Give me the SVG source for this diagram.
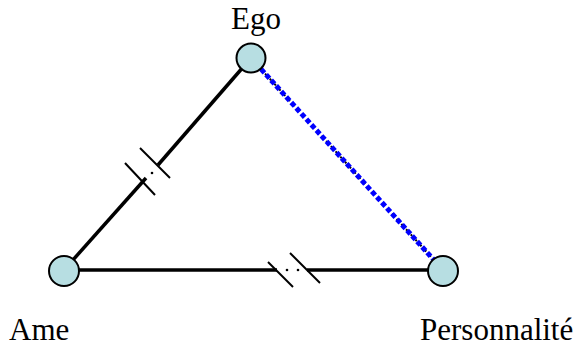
<svg xmlns="http://www.w3.org/2000/svg" width="576" height="348" viewBox="0 0 576 348">
<style>
.t{font-family:"Liberation Serif","Times New Roman",serif;font-size:31px;fill:#000}
.l{stroke:#000;stroke-width:3.5;fill:none}
.s{stroke:#000;stroke-width:2;fill:none}
.n{fill:#B7DEE2;stroke:#000;stroke-width:2}
</style>
<g id="connectors">
<g id="ame-ego">
<line class="l" x1="64" y1="270" x2="146" y2="178"/>
<line class="l" x1="158" y1="165" x2="251" y2="58"/>
<line class="s" x1="125" y1="163" x2="155" y2="195"/>
<line class="s" x1="140" y1="148" x2="170" y2="178"/>
<circle cx="152" cy="173" r="1.3" fill="#000"/>
</g>
<g id="ame-perso">
<line class="l" x1="64" y1="270" x2="277" y2="270"/>
<line class="l" x1="307" y1="270" x2="443" y2="270"/>
<line class="s" x1="268" y1="262" x2="293" y2="287"/>
<line class="s" x1="290" y1="253" x2="320" y2="283"/>
<circle cx="287" cy="270" r="1.3" fill="#000"/>
<circle cx="298" cy="270" r="1.3" fill="#000"/>
</g>
<g id="ego-perso">
<line x1="251" y1="58" x2="443" y2="270" stroke="#000" stroke-width="2" stroke-dasharray="2 5"/>
<line x1="251" y1="58" x2="443" y2="270" stroke="#0000FF" stroke-width="5" stroke-dasharray="5 2.5"/>
</g>
</g>
<g id="ego"><circle class="n" cx="251" cy="58" r="14.5"/><text class="t" x="256" y="29" text-anchor="middle">Ego</text></g>
<g id="ame"><circle class="n" cx="64" cy="271" r="15"/><text class="t" x="9" y="340">Ame</text></g>
<g id="personnalite"><circle class="n" cx="443" cy="271" r="15"/><text class="t" x="420" y="340">Personnalité</text></g>
</svg>
